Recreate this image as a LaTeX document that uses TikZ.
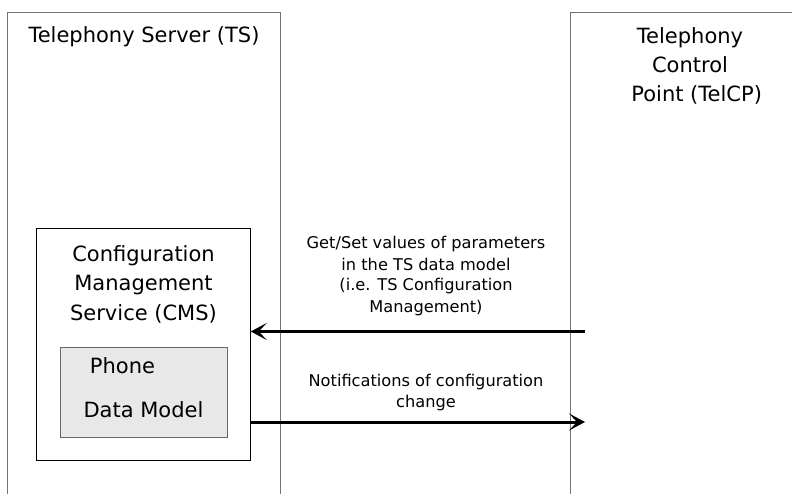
\documentclass[tikz,border=0pt]{standalone}
\usepackage{fontspec}
\setmainfont{DejaVu Sans}
\usetikzlibrary{arrows.meta}
\tikzset{
  frame/.style={draw=black!55, line width=1pt},
  box/.style={draw=black, line width=1pt},
  big/.style={font=\fontsize{21}{29.3}\selectfont, inner sep=0pt, anchor=base, align=center},
  small/.style={font=\fontsize{16.2}{21}\selectfont, inner sep=0pt, anchor=base, align=center},
  flow/.style={line width=3pt, -{Stealth[length=16pt,width=17pt,inset=8pt]}},
}
\begin{document}
\begin{tikzpicture}[x=1pt,y=-1pt]
\useasboundingbox (0,0) rectangle (792,494);
% outer frames (open at bottom / right)
\draw[frame] (7.5,494) -- (7.5,12.5) -- (280.5,12.5) -- (280.5,494);
\draw[frame] (570,494) -- (570,12.5) -- (792,12.5);
\node[big] (ts) at (144,43) {Telephony Server (TS)};
\node[big] (telcp) at (690,102) {Telephony\\Control\\\ \ Point (TelCP)};
% CMS box
\node[box, minimum width=213.5pt, minimum height=231pt, inner sep=0pt] (cms) at (143.5,344.5) {};
\node[big] (cmstext) at (143.5,320) {Configuration\\Management\\Service (CMS)};
% Phone data model
\node[draw=black!60, line width=1pt, fill=black!9, minimum width=167.5pt, minimum height=90pt, inner sep=0pt] (pdm) at (144,392.5) {};
\node[big] (phone) at (122.5,373) {Phone};
\node[big] (datamodel) at (143.5,417) {Data Model};
% connector end points on the TelCP line
\coordinate (c1) at (585,331.5);
\coordinate (c2) at (585,422);
\draw[flow] (c1) -- (c1 -| cms.east);
\draw[flow] (cms.east |- c2) -- (c2);
\node[small] (lab1) at (426,312) {Get/Set values of parameters\\in the TS data model\\(i.e. TS Configuration\\Management)};
\node[small] (lab2) at (426,407) {Notifications of configuration\\change};
\end{tikzpicture}
\end{document}
